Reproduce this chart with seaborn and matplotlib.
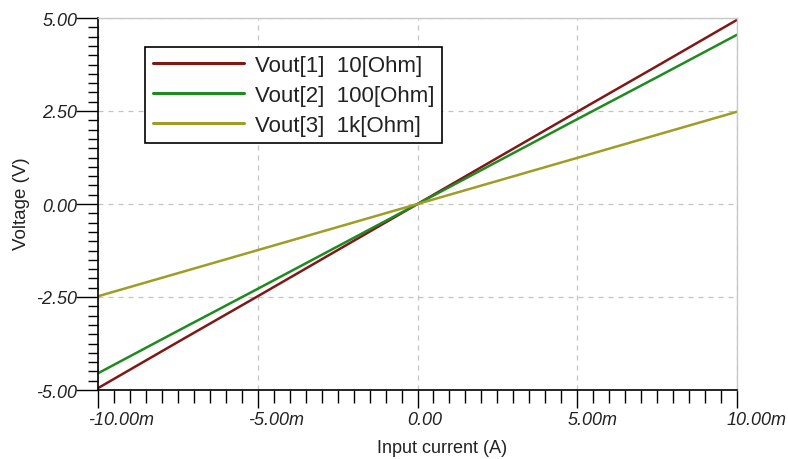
import matplotlib
matplotlib.use("Agg")
import matplotlib.pyplot as plt
import seaborn as sns
import pandas as pd
from matplotlib.ticker import MultipleLocator, FuncFormatter
from matplotlib.transforms import ScaledTranslation

# Data (current in mA, voltage in V)
current_mA = [-10.0, -7.5, -5.0, -2.5, 0.0, 2.5, 5.0, 7.5, 10.0]
vout1 = [-4.95, -3.71, -2.48, -1.24, 0.0, 1.24, 2.48, 3.71, 4.95]
vout2 = [-4.55, -3.41, -2.28, -1.14, 0.0, 1.14, 2.28, 3.41, 4.55]
vout3 = [-2.48, -1.86, -1.24, -0.62, 0.0, 0.62, 1.24, 1.86, 2.48]
labels = ["Vout[1]  10[Ohm]", "Vout[2]  100[Ohm]", "Vout[3]  1k[Ohm]"]
colors = ["#801818", "#1f8a1f", "#9e9e26"]

df = pd.concat([
    pd.DataFrame({"I": current_mA, "V": v, "series": lab})
    for v, lab in zip([vout1, vout2, vout3], labels)
])

sns.set_style("white")
plt.rcParams["font.family"] = ["Liberation Sans", "DejaVu Sans"]

fig = plt.figure(figsize=(7.88, 4.60), dpi=100)
ax = fig.add_axes([98/788, 69/460, 639/788, 372/460])

sns.lineplot(data=df, x="I", y="V", hue="series", palette=colors,
             linewidth=1.8, ax=ax, legend=True)

ax.set_xlim(-10, 10)
ax.set_ylim(-5, 5)

ax.xaxis.set_major_locator(MultipleLocator(5))
ax.xaxis.set_minor_locator(MultipleLocator(0.5))
ax.yaxis.set_major_locator(MultipleLocator(2.5))
ax.yaxis.set_minor_locator(MultipleLocator(0.25))

def xfmt(v, pos):
    if abs(v) < 1e-9:
        return "0.00"
    return f"{v:.2f}m"
ax.xaxis.set_major_formatter(FuncFormatter(xfmt))
ax.yaxis.set_major_formatter(FuncFormatter(lambda v, p: f"{v:.2f}"))

ax.tick_params(axis="both", which="both", bottom=True, left=True, top=False, right=False)
ax.tick_params(axis="x", which="major", direction="out", length=13, width=1,
               color="black", labelsize=13, pad=2)
ax.tick_params(axis="x", which="minor", direction="out", length=5, width=1, color="black")
ax.tick_params(axis="y", which="major", direction="out", length=16, width=1,
               color="black", labelsize=13, pad=-1)
ax.tick_params(axis="y", which="minor", direction="out", length=3.5, width=1, color="black")

# medium ticks at half of major spacing
for tick in ax.xaxis.get_minor_ticks():
    loc = tick.get_loc()
    if abs((loc / 2.5) - round(loc / 2.5)) < 1e-6:
        tick.tick1line.set_markersize(9)
for tick in ax.yaxis.get_minor_ticks():
    loc = tick.get_loc()
    if abs((loc / 1.25) - round(loc / 1.25)) < 1e-6:
        tick.tick1line.set_markersize(7)

ax.grid(True, which="major", linestyle=(0, (4, 4)), color="#c4c4c4", linewidth=0.9)
ax.set_axisbelow(True)

for side in ["left", "bottom"]:
    ax.spines[side].set_color("black")
    ax.spines[side].set_linewidth(1.2)
for side in ["top", "right"]:
    ax.spines[side].set_color("#c8c8c8")
    ax.spines[side].set_linewidth(1.0)

ax.set_xlabel("Input current (A)", fontsize=13, color="#222222", va="center")
ax.xaxis.set_label_coords((442 - 98) / 639, -(449 - 391) / 372)
ax.set_ylabel("Voltage (V)", fontsize=13.5, color="#222222", va="center", ha="center")
ax.yaxis.set_label_coords(-(98 - 22) / 639, (391 - 204) / 372)

handles, labs = ax.get_legend_handles_labels()
leg = ax.legend(handles, labs, loc="upper left",
                bbox_to_anchor=((145-98)/639, (391-48)/372),
                borderaxespad=0, fontsize=16, frameon=True, fancybox=False,
                edgecolor="black", framealpha=1, handlelength=4.1,
                handletextpad=0.5, labelspacing=0.4, borderpad=0.35)
leg.get_frame().set_linewidth(1.2)
for t in leg.get_texts():
    t.set_color("#222222")
for h in leg.get_lines():
    h.set_linewidth(2.2)

fig.canvas.draw()
for t in ax.get_yticklabels():
    t.set_fontstyle("italic")
    t.set_color("#222222")
shift = ScaledTranslation(-10/100, 0, fig.dpi_scale_trans)
for t in ax.get_xticklabels():
    t.set_fontstyle("italic")
    t.set_color("#222222")
    t.set_horizontalalignment("left")
    t.set_transform(t.get_transform() + shift)

fig.savefig("out.png", dpi=100)
